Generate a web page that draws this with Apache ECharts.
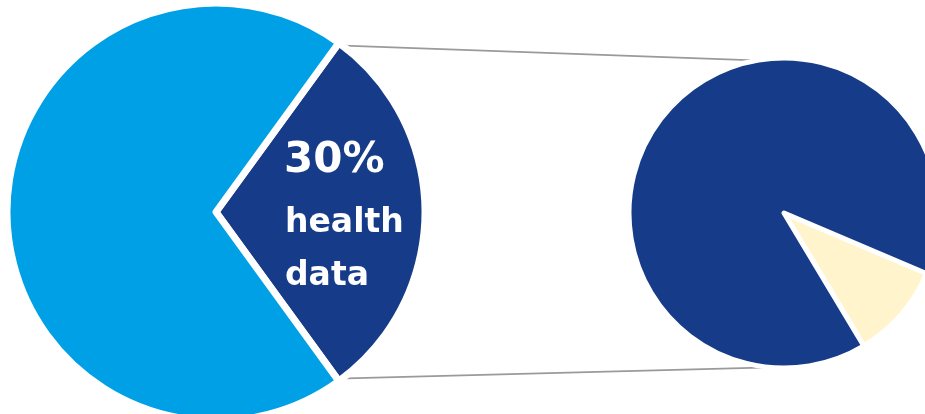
<!DOCTYPE html>
<html><head><meta charset="utf-8">
<script src="https://cdn.jsdelivr.net/npm/echarts@6/dist/echarts.min.js"></script>
<style>html,body{margin:0;padding:0;background:#fff}#c{width:925px;height:414px}</style>
</head><body><div id="c"></div>
<script>
// ---- data ----
const mainCategories = ['health data', 'other data'];
const mainValues = [30, 70];
const detailCategories = ['subset', 'remaining health data'];
const detailValues = [10, 90];
const labelLines = ['30%', 'health', 'data'];

// ---- styles / layout ----
const C_LIGHT = '#00A0E6';
const C_DARK = '#163C89';
const C_CREAM = '#FFF4CC';
const L = { cx: 216, cy: 212, r: 209, bw: 7 };
const Rt = { cx: 784, cy: 213, r: 155, bw: 5 };

const chart = echarts.init(document.getElementById('c'), null, { renderer: 'canvas' });

const total = mainValues.reduce((a, b) => a + b, 0);
const half = mainValues[0] / total * 180;        // half angle of highlighted slice
const rad = d => d * Math.PI / 180;
const vis = L.r - 3;
const p1 = [L.cx + vis * Math.cos(rad(half)), L.cy - vis * Math.sin(rad(half))];
const p2 = [L.cx + vis * Math.cos(rad(half)), L.cy + vis * Math.sin(rad(half))];
const q1 = [Rt.cx + (Rt.r - 3) * Math.cos(rad(93)), Rt.cy - (Rt.r - 3) * Math.sin(rad(93))];
const q2 = [Rt.cx + (Rt.r) * Math.cos(rad(95)), Rt.cy + (Rt.r) * Math.sin(rad(95))];

const font = '"DejaVu Sans", sans-serif';

chart.setOption({
  animation: false,
  backgroundColor: '#ffffff',
  graphic: [
    { type: 'line', z: 0, shape: { x1: p1[0], y1: p1[1], x2: q1[0], y2: q1[1] },
      style: { stroke: '#9A9A9A', lineWidth: 1.8 } },
    { type: 'line', z: 0, shape: { x1: p2[0], y1: p2[1], x2: q2[0], y2: q2[1] },
      style: { stroke: '#9A9A9A', lineWidth: 1.8 } },
    { type: 'text', z: 100, left: 284, top: 140,
      style: { text: labelLines[0], fill: '#fff', font: 'bold 42px ' + font } },
    { type: 'text', z: 100, left: 285, top: 207,
      style: { text: labelLines[1], fill: '#fff', font: 'bold 33px ' + font } },
    { type: 'text', z: 100, left: 285, top: 260,
      style: { text: labelLines[2], fill: '#fff', font: 'bold 33px ' + font } }
  ],
  series: [
    {
      type: 'pie', z: 2,
      center: [L.cx, L.cy], radius: [0, L.r],
      startAngle: half, clockwise: true,
      label: { show: false }, labelLine: { show: false },
      silent: true,
      itemStyle: { borderColor: '#fff', borderWidth: L.bw },
      data: mainCategories.map((n, i) => ({ name: n, value: mainValues[i],
        itemStyle: { color: i === 0 ? C_DARK : C_LIGHT } }))
    },
    {
      type: 'pie', z: 2,
      center: [Rt.cx, Rt.cy], radius: [0, Rt.r],
      startAngle: -23, clockwise: true,
      label: { show: false }, labelLine: { show: false },
      silent: true,
      itemStyle: { borderColor: '#fff', borderWidth: Rt.bw },
      data: detailCategories.map((n, i) => ({ name: n, value: detailValues[i],
        itemStyle: { color: i === 0 ? C_CREAM : C_DARK } }))
    }
  ]
});
</script></body></html>
